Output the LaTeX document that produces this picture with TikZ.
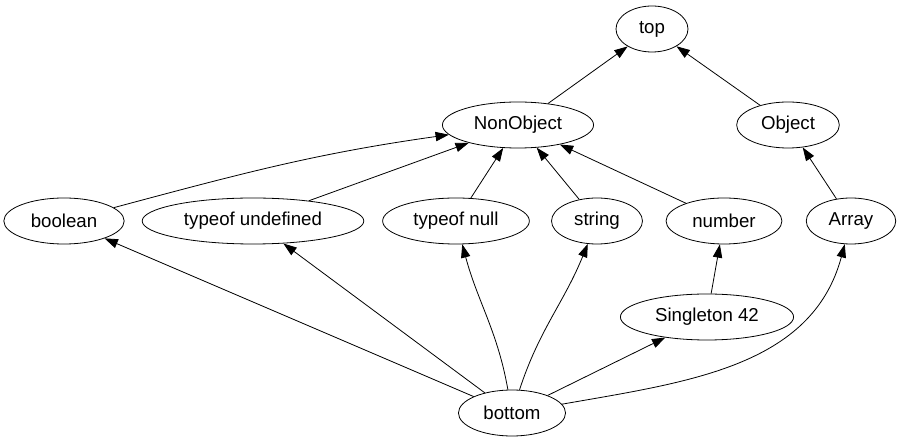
\documentclass[tikz,border=0pt]{standalone}
\usepackage{fontspec}
\setmainfont{Liberation Sans}
\usetikzlibrary{arrows.meta,shapes.geometric}
\begin{document}
\begin{tikzpicture}[x=0.75pt,y=0.75pt,line width=0.6pt,line join=round,>={Triangle[length=10pt,width=7pt]},font=\fontsize{14}{16}\selectfont,
			kind/.style={draw,ellipse,inner xsep=7pt,inner ysep=2pt,minimum width=54pt,minimum height=34.5pt}]
			\useasboundingbox (0,0) rectangle (901,443);
			\node [kind] (top) at (652,414) {top};
			\node [kind] (nonobj) at (518,318) {NonObject};
			\node [kind] (object) at (788,318) {Object};
			\node [kind] (bool) at (64,222) {boolean};
			\node [kind] (undef) at (253,222) {typeof undefined};
			\node [kind] (null) at (456,222) {typeof null};
			\node [kind] (str) at (597,222) {string};
			\node [kind] (num) at (724,222) {number};
			\node [kind] (arr) at (851,222) {Array};
			\node [kind] (single) at (707,126) {Singleton 42};
			\node [kind] (bottom) at (512,30) {bottom};
			\draw [->] (nonobj) -- (top);
			\draw [->] (object) -- (top);
			\draw [->] (bool) to [out=15,in=188] (nonobj);
			\draw [->] (undef) -- (nonobj);
			\draw [->] (null) -- (nonobj);
			\draw [->] (str) -- (nonobj);
			\draw [->] (num) -- (nonobj);
			\draw [->] (arr) -- (object);
			\draw [->] (single) -- (num);
			\draw [->] (bottom) -- (bool);
			\draw [->] (bottom) -- (undef);
			\draw [->] (bottom) to [out=100,in=-75] (null);
			\draw [->] (bottom) to [out=72,in=-112] (str);
			\draw [->] (bottom) -- (single);
			\draw [->] (bottom) to [out=10,in=-105] (arr);
	\end{tikzpicture}
\end{document}
